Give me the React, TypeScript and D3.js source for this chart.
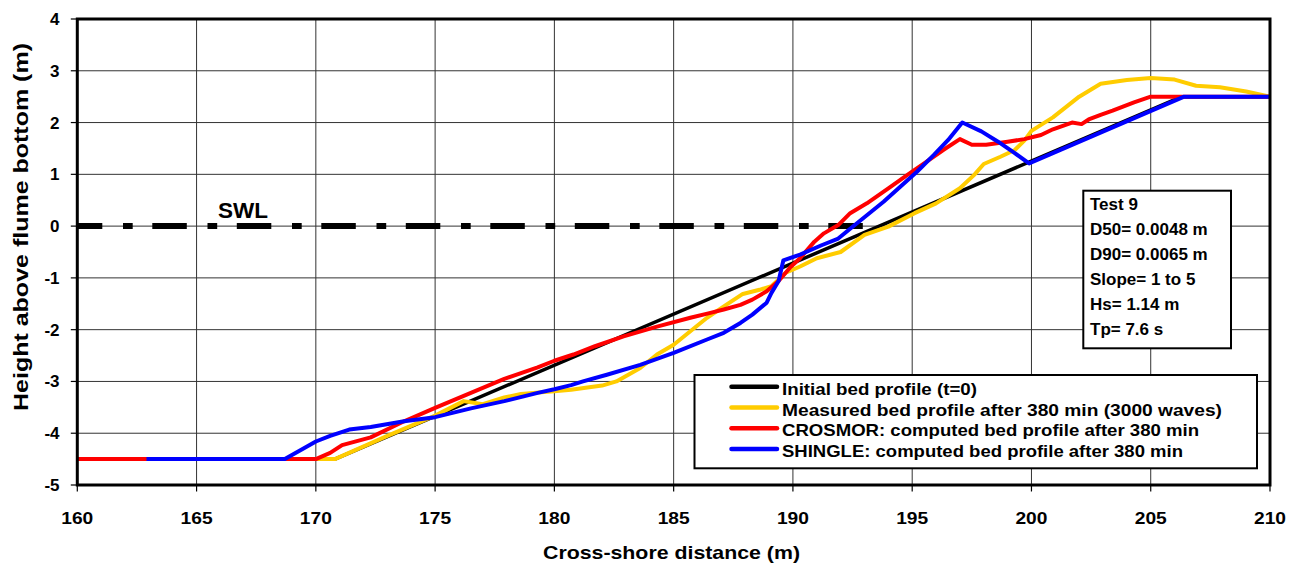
import React from "react";
import * as d3 from "d3";

// Cross-shore distance (m) and bed level (m above flume bottom) for each profile
const initialX = [160, 170.8, 206.3, 210];
const initialY = [-4.5, -4.5, 2.5, 2.5];

const measuredX = [170.0, 170.8, 173.0, 175.0, 176.2, 177.0, 177.9, 178.6, 180.0, 180.7, 182.0, 182.6, 183.6, 184.3, 185.0, 185.7, 186.4, 187.2, 187.9, 188.6, 189.1, 189.7, 190.3, 191.0, 192.0, 193.0, 194.0, 195.1, 196.0, 197.0, 197.6, 198.0, 198.7, 199.3, 199.7, 200.0, 200.9, 202.0, 202.9, 204.0, 205.0, 206.0, 206.9, 207.9, 209.0, 210.0];
const measuredY = [-4.5, -4.5, -4.05, -3.66, -3.38, -3.44, -3.31, -3.24, -3.19, -3.16, -3.08, -3.0, -2.74, -2.48, -2.29, -2.03, -1.77, -1.52, -1.31, -1.23, -1.16, -0.9, -0.78, -0.62, -0.5, -0.17, -0.01, 0.25, 0.44, 0.73, 0.99, 1.2, 1.34, 1.47, 1.65, 1.84, 2.1, 2.5, 2.75, 2.82, 2.86, 2.83, 2.71, 2.68, 2.6, 2.5];

const crosmorX = [160, 170.0, 170.6, 171.1, 172.3, 173.7, 175.0, 176.5, 177.9, 179.3, 180.0, 180.8, 181.7, 182.9, 184.3, 185.7, 186.5, 187.1, 187.8, 188.3, 188.9, 189.4, 189.9, 190.3, 190.9, 191.3, 191.9, 192.4, 193.1, 194.0, 194.8, 195.5, 196.3, 197.0, 197.5, 198.1, 199.0, 199.7, 200.4, 200.9, 201.7, 202.1, 202.4, 202.9, 203.4, 204.3, 205.0, 210];
const crosmorY = [-4.5, -4.5, -4.38, -4.23, -4.08, -3.77, -3.51, -3.22, -2.95, -2.73, -2.6, -2.48, -2.32, -2.13, -1.94, -1.77, -1.68, -1.61, -1.52, -1.42, -1.26, -1.06, -0.79, -0.62, -0.3, -0.14, 0.02, 0.25, 0.44, 0.73, 0.99, 1.21, 1.47, 1.68, 1.57, 1.57, 1.63, 1.68, 1.76, 1.87, 2.0, 1.97, 2.06, 2.15, 2.23, 2.39, 2.5, 2.5];

const shingleX = [162.9, 168.7, 169.5, 170.0, 170.6, 171.4, 172.3, 173.7, 175.0, 176.5, 177.9, 179.3, 180.0, 180.7, 181.2, 182.2, 183.6, 185.0, 186.4, 187.1, 187.8, 188.3, 188.9, 189.1, 189.4, 189.6, 190.3, 191.2, 191.9, 192.4, 193.1, 193.8, 194.5, 195.2, 195.9, 196.5, 197.1, 197.9, 198.6, 199.3, 199.9, 206.4, 210];
const shingleY = [-4.5, -4.5, -4.29, -4.16, -4.05, -3.93, -3.88, -3.77, -3.69, -3.52, -3.38, -3.22, -3.15, -3.07, -3.0, -2.87, -2.68, -2.45, -2.19, -2.06, -1.87, -1.71, -1.48, -1.29, -1.06, -0.66, -0.55, -0.37, -0.24, -0.05, 0.21, 0.47, 0.76, 1.05, 1.37, 1.66, 2.0, 1.83, 1.63, 1.41, 1.21, 2.5, 2.5];

// Still water level, drawn from the flume start up to the beach
const swlX = [160, 193.5];
const swlY = [0, 0];

const xTicks = [160, 165, 170, 175, 180, 185, 190, 195, 200, 205, 210];
const yTicks = [4, 3, 2, 1, 0, -1, -2, -3, -4, -5];

const legendLabels = [
  "Initial bed profile (t=0)",
  "Measured bed profile after 380 min (3000 waves)",
  "CROSMOR: computed bed profile after 380 min",
  "SHINGLE: computed bed profile after 380 min",
];
const legendWidths = [195, 440, 417, 401];

const testInfo = ["Test 9", "D50= 0.0048 m", "D90= 0.0065 m", "Slope= 1 to 5", "Hs= 1.14 m", "Tp= 7.6 s"];

const W = 1303;
const H = 566;
const FONT = "'Liberation Sans', Arial, Helvetica, sans-serif";

const x = d3.scaleLinear().domain([160, 210]).range([77.3, 1270]);
const y = d3.scaleLinear().domain([-5, 4]).range([485, 19]);

function pathOf(xs: number[], ys: number[]) {
  const pts = xs.map((v, i) => [v, ys[i]] as [number, number]);
  return d3
    .line<[number, number]>()
    .x((d) => x(d[0]))
    .y((d) => y(d[1]))(pts) as string;
}

const series = [
  { xs: initialX, ys: initialY, color: "#000000", width: 3.5 },
  { xs: measuredX, ys: measuredY, color: "#FFCC00", width: 4 },
  { xs: crosmorX, ys: crosmorY, color: "#FF0000", width: 4 },
  { xs: shingleX, ys: shingleY, color: "#0000FF", width: 4 },
];

export default function App() {
  const [x0, x1] = x.range();
  const [yb, yt] = y.range();
  return (
    <svg
      width={W}
      height={H}
      viewBox={`0 0 ${W} ${H}`}
      style={{ position: "fixed", left: 0, top: 0, background: "#fff" }}
      fontFamily={FONT}
      fontWeight="bold"
    >
      <rect x={0} y={0} width={W} height={H} fill="#fff" />

      {/* grid */}
      <g stroke="#333" strokeWidth={1}>
        {yTicks.map((t) => (
          <line key={"gy" + t} x1={x0} x2={x1} y1={y(t)} y2={y(t)} />
        ))}
        {xTicks.map((t) => (
          <line key={"gx" + t} x1={x(t)} x2={x(t)} y1={yt} y2={yb} />
        ))}
      </g>

      {/* tick marks */}
      <g stroke="#000" strokeWidth={1.2}>
        {yTicks.map((t) => (
          <line key={"ty" + t} x1={x0 - 6.5} x2={x0} y1={y(t)} y2={y(t)} />
        ))}
        {xTicks.map((t) => (
          <line key={"tx" + t} x1={x(t)} x2={x(t)} y1={yb} y2={yb + 6.5} />
        ))}
      </g>

      {/* still water level */}
      <path
        d={pathOf(swlX, swlY)}
        fill="none"
        stroke="#000"
        strokeWidth={6}
        strokeDasharray="34.5 20.7 9.7 19.6"
        strokeDashoffset={9.5}
      />
      <text x={x(165.9)} y={218} fontSize={22.5}>
        SWL
      </text>

      {/* profiles */}
      {series.map((s, i) => (
        <path
          key={"s" + i}
          d={pathOf(s.xs, s.ys)}
          fill="none"
          stroke={s.color}
          strokeWidth={s.width}
          strokeLinejoin="round"
        />
      ))}

      {/* plot frame */}
      <rect x={x0} y={yt} width={x1 - x0} height={yb - yt} fill="none" stroke="#000" strokeWidth={3} />

      {/* tick labels */}
      <g fontSize={17} fill="#000">
        {yTicks.map((t) => (
          <text key={"ly" + t} x={59.5} y={y(t) + 6} textAnchor="end">
            {t}
          </text>
        ))}
        {xTicks.map((t) => (
          <text
            key={"lx" + t}
            x={x(t) - 16}
            y={524}
            textLength={32}
            lengthAdjust="spacingAndGlyphs"
          >
            {t}
          </text>
        ))}
      </g>

      {/* axis titles */}
      <text x={543} y={559} fontSize={18.5} textLength={257} lengthAdjust="spacingAndGlyphs">
        Cross-shore distance (m)
      </text>
      <text
        transform="translate(28,411) rotate(-90)"
        x={0}
        y={0}
        fontSize={20}
        textLength={368}
        lengthAdjust="spacingAndGlyphs"
      >
        Height above flume bottom (m)
      </text>

      {/* test parameters */}
      <rect x={1083.3} y={190.7} width={147.7} height={157.6} fill="#fff" stroke="#000" strokeWidth={2} />
      <g fontSize={17}>
        {testInfo.map((t, i) => (
          <text key={"ti" + i} x={1090} y={210 + i * 25}>
            {t}
          </text>
        ))}
      </g>

      {/* legend */}
      <rect x={694.5} y={375} width={562.5} height={93.3} fill="#fff" stroke="#000" strokeWidth={2} />
      {legendLabels.map((lab, i) => {
        const ly = 386.7 + i * 20.8;
        return (
          <g key={"lg" + i}>
            <line x1={731.5} x2={777} y1={ly} y2={ly} stroke={series[i].color} strokeWidth={4.5} strokeLinecap="round" />
            <text
              x={782}
              y={395 + i * 20.7}
              fontSize={16.5}
              textLength={legendWidths[i]}
              lengthAdjust="spacingAndGlyphs"
            >
              {lab}
            </text>
          </g>
        );
      })}
    </svg>
  );
}
